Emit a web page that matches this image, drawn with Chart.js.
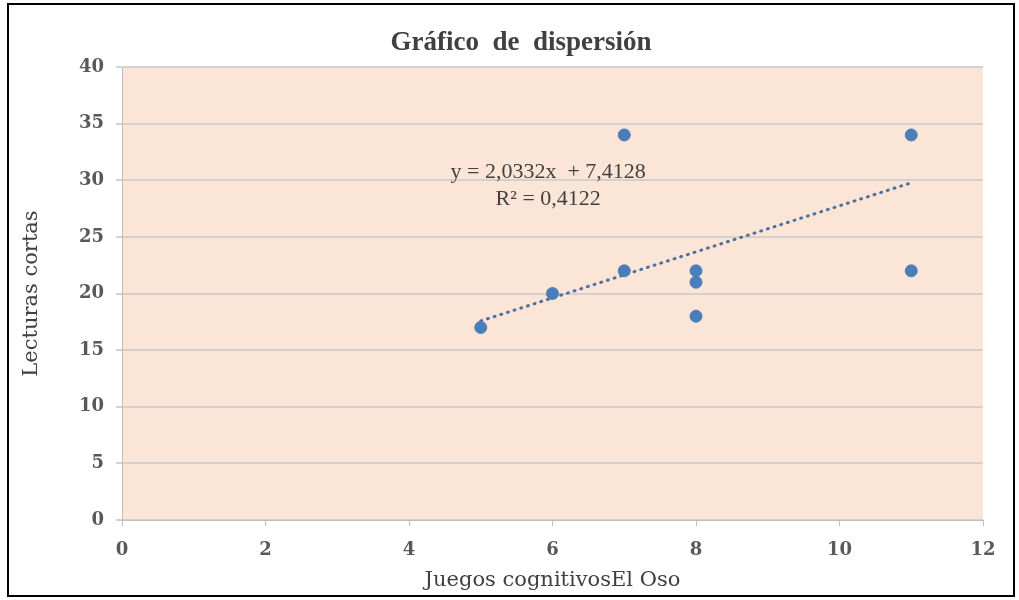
<!DOCTYPE html>
<html>
<head>
<meta charset="utf-8">
<script src="https://cdn.jsdelivr.net/npm/chart.js@4"></script>
<style>
  html, body { margin: 0; padding: 0; background: #fff; }
  #wrap { width: 1019px; height: 600px; position: relative; }
</style>
</head>
<body>
<div id="wrap"><canvas id="myChart" width="1019" height="600"></canvas></div>
<script>
  // datos
  const juegosX = [5, 6, 7, 7, 8, 8, 8, 11, 11];
  const lecturasY = [17, 20, 22, 34, 22, 21, 18, 34, 22];
  const xTicks = [0, 2, 4, 6, 8, 10, 12];
  const yTicks = [0, 5, 10, 15, 20, 25, 30, 35, 40];
  // linea de tendencia (la que indica la etiqueta)
  const trendSlope = 2.0332;
  const trendIntercept = 7.4128;
  const trendRange = [5, 11];
  const trendLabel = ["y = 2,0332x  + 7,4128", "R² = 0,4122"];

  const serif = "'DejaVu Serif', serif";
  const tickColor = "#595959";

  const puntos = juegosX.map((x, i) => ({ x: x, y: lecturasY[i] }));
  const tendencia = trendRange.map((x) => ({ x: x, y: trendSlope * x + trendIntercept }));

  // fondo del area de trazado, titulo, marco y texto de la ecuacion
  const decoPlugin = {
    id: "deco",
    beforeDraw(chart) {
      const { ctx, chartArea: a } = chart;
      ctx.save();
      ctx.fillStyle = "#fbe5d6";
      ctx.fillRect(a.left, a.top, a.right - a.left, a.bottom - a.top);
      ctx.restore();
    },
    afterDatasetsDraw(chart) {
      const { ctx, scales } = chart;
      ctx.save();
      ctx.fillStyle = "#404040";
      ctx.font = "22px 'Liberation Serif', serif";
      ctx.textAlign = "center";
      ctx.textBaseline = "middle";
      const cx = scales.x.getPixelForValue(5.94);
      ctx.fillText(trendLabel[0], cx, scales.y.getPixelForValue(30.7));
      ctx.fillText(trendLabel[1], cx, scales.y.getPixelForValue(28.3));
      ctx.restore();
    },
    afterDraw(chart) {
      const ctx = chart.ctx;
      ctx.save();
      ctx.fillStyle = "#404040";
      ctx.font = "bold 27px 'Liberation Serif', serif";
      ctx.textAlign = "center";
      ctx.textBaseline = "middle";
      ctx.fillText("Gráfico  de  dispersión", 521, 43);
      ctx.strokeStyle = "#000";
      ctx.lineWidth = 2;
      ctx.strokeRect(8, 4, 1006, 592);
      ctx.restore();
    },
  };

  new Chart(document.getElementById("myChart"), {
    type: "scatter",
    plugins: [decoPlugin],
    data: {
      datasets: [
        {
          label: "Lecturas cortas",
          data: puntos,
          backgroundColor: "#4a7ebb",
          borderColor: "#4a7ebb",
          pointRadius: 6,
          pointHoverRadius: 6,
          order: 1,
        },
        {
          label: "Tendencia",
          type: "line",
          data: tendencia,
          borderColor: "#4f6fa0",
          borderWidth: 3,
          borderDash: [1, 6],
          borderCapStyle: "round",
          pointRadius: 0,
          fill: false,
          order: 2,
        },
      ],
    },
    options: {
      responsive: false,
      animation: false,
      layout: { padding: { left: 0, right: 36, top: 67, bottom: 0 } },
      plugins: {
        legend: { display: false },
        tooltip: { enabled: false },
        title: { display: false },
      },
      scales: {
        x: {
          type: "linear",
          min: 0,
          max: 12,
          afterBuildTicks: (scale) => { scale.ticks = xTicks.map((v) => ({ value: v })); },
          afterFit: (scale) => { scale.height = 80; },
          border: { color: "#bfbfbf", width: 1 },
          grid: { drawOnChartArea: false, drawTicks: true, tickLength: 6, color: "#bfbfbf" },
          ticks: { color: tickColor, font: { family: serif, size: 18, weight: "bold" }, padding: 14 },
          title: {
            display: true,
            text: "Juegos cognitivosEl Oso",
            color: "#404040",
            font: { family: serif, size: 21 },
            padding: { top: 0, bottom: 7 },
          },
        },
        y: {
          min: 0,
          max: 40,
          afterBuildTicks: (scale) => { scale.ticks = yTicks.map((v) => ({ value: v })); },
          afterFit: (scale) => { scale.width = 122; },
          border: { color: "#bfbfbf", width: 1 },
          grid: { color: "#d4cfcb", lineWidth: 2, tickLength: 6 },
          ticks: { color: tickColor, font: { family: serif, size: 18, weight: "bold" }, padding: 12 },
          title: {
            display: true,
            text: "Lecturas cortas",
            color: "#404040",
            font: { family: serif, size: 21 },
            padding: { top: 19, bottom: 0 },
          },
        },
      },
    },
  });
</script>
</body>
</html>
